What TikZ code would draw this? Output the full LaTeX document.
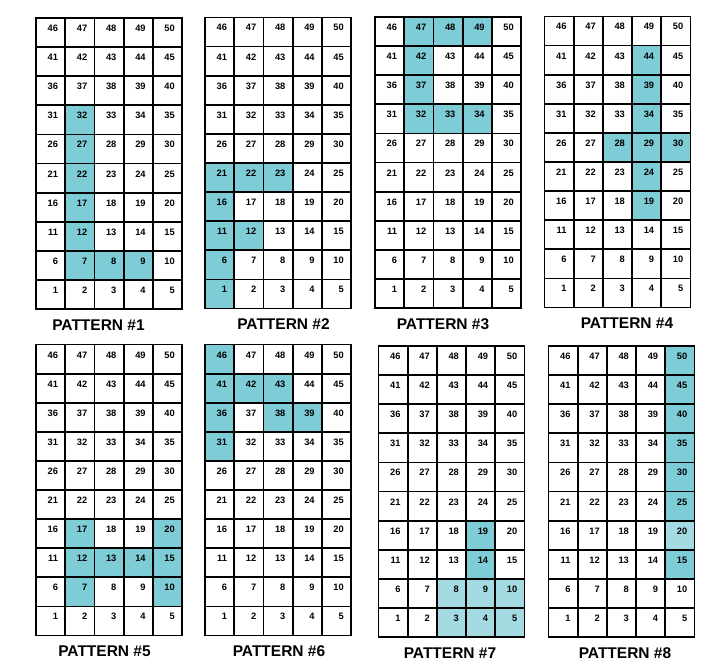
\documentclass[tikz,border=0pt]{standalone}
\usepackage{fontspec}
\setmainfont{Liberation Sans}
\definecolor{tealdark}{RGB}{126,205,214}
\definecolor{teallight}{RGB}{164,218,226}
\def\cw{29.2}
\def\ch{29.1}
\tikzset{
  gline/.style={line width=1.8bp, black, line cap=rect},
  num/.style={font=\fontsize{9.3bp}{10bp}\selectfont\bfseries, inner sep=0pt, anchor=base east},
  lbl/.style={font=\fontsize{15.5bp}{18bp}\selectfont\bfseries, inner sep=0pt, anchor=base}
}
\newcommand{\pcell}[4]{%
  \pgfmathtruncatemacro\rr{div(#3-1,5)}%
  \pgfmathtruncatemacro\cc{mod(#3-1,5)}%
  \fill[#4] ({#1+\cc*\cw},{#2+(9-\rr)*\ch}) rectangle ++(\cw,\ch);}
\newcommand{\pgrid}[5]{%
  \foreach \n in {#5}{\pcell{#2}{#3}{\n}{tealdark}}
  \foreach \i in {0,...,5}{\draw[gline] ({#2+\i*\cw},#3) -- ({#2+\i*\cw},{#3+10*\ch});}
  \foreach \j in {0,...,10}{\draw[gline] (#2,{#3+\j*\ch}) -- ({#2+5*\cw},{#3+\j*\ch});}
  \foreach \r in {0,...,9}{\foreach \c in {0,...,4}{%
    \pgfmathtruncatemacro\nn{5*\r+\c+1}%
    \node[num] (g#1n\nn) at ({#2+(\c+1)*\cw-7},{#3+(9-\r)*\ch+13.5}) {\nn};}}
  \node[lbl] (lab#1) at (#4,{#3+312.3}) {PATTERN \##1};
}
\begin{document}
\begin{tikzpicture}[x=1bp,y=-1bp]
\fill[white] (0,0) rectangle (720,671);
\useasboundingbox (0,0) rectangle (720,671);
\pgrid{1}{36}{18}{98.5}{32,27,22,17,12,7,8,9}
\pgrid{2}{205}{17.5}{283.5}{21,22,23,16,11,12,6,1}
\pgrid{3}{375}{17}{443}{47,48,49,42,37,32,33,34}
\pgrid{4}{544.5}{16.5}{627}{44,39,34,28,29,30,24,19}
\pgrid{5}{36}{344.5}{104.5}{17,20,12,13,14,15,7,10}
\pgrid{6}{205}{344.5}{279}{46,41,42,43,36,38,39,31}
\foreach \n in {8,9,10,3,4,5}{\pcell{378.5}{346}{\n}{teallight}}
\pgrid{7}{378.5}{346}{450}{19,14}
\pcell{548.5}{346}{20}{teallight}
\pgrid{8}{548.5}{346}{625}{50,45,40,35,30,25,15}
\end{tikzpicture}
\end{document}
